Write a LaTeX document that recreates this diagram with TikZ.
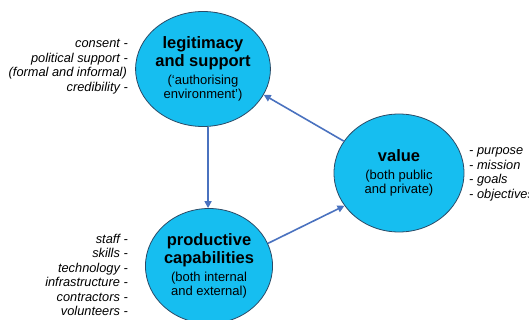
\documentclass[tikz,border=0pt]{standalone}
\usepackage{fontspec}
\setmainfont{Liberation Sans}
\usetikzlibrary{shapes.geometric,arrows.meta}
\definecolor{bubble}{HTML}{16BEF0}
\definecolor{bubedge}{HTML}{2B4A66}
\definecolor{arrowc}{HTML}{4A72BF}
\newcommand{\hd}[1]{{\fontsize{16.5}{18}\selectfont\bfseries #1}}
\begin{document}
\begin{tikzpicture}[x=1pt,y=-1pt,
  bub/.style={ellipse,draw=bubedge,line width=0.8pt,fill=bubble,minimum width=124pt,minimum height=115pt,inner sep=0pt,align=center,font=\fontsize{13}{14.5}\selectfont},
  arr/.style={draw=arrowc,line width=1.6pt,-{Triangle[length=7pt,width=7pt]}},
  lab/.style={font=\fontsize{12.8}{14.5}\selectfont\itshape,inner sep=0pt}]
\useasboundingbox (0,0) rectangle (529,320);

\node[bub] (leg) at (203,69) {\hd{legitimacy}\\[2pt]\hd{and support}\\[3pt](‘authorising\\environment’)};
\node[bub,minimum width=130pt,minimum height=118pt] (val) at (399,173) {\hd{value}\\[3pt](both public\\and private)};
\node[bub] (prod) at (209,266) {\hd{productive}\\[2pt]\hd{capabilities}\\[3pt](both internal\\and external)};

\draw[arr] (leg.-85) -- (leg.-85 |- prod.north);
\draw[arr] (prod.21) -- (val.211);
\draw[arr] (val.150) -- (leg.-23);

\node[lab,anchor=base east] (a1) at (128,48) {consent -};
\node[lab,anchor=base east] (a2) at (128,62.5) {political support -};
\node[lab,anchor=base east] (a3) at (127,77) {(formal and informal)};
\node[lab,anchor=base east] (a4) at (128,91.5) {credibility -};

\node[lab,anchor=base east] (b1) at (128,243) {staff -};
\node[lab,anchor=base east] (b2) at (128,257.5) {skills -};
\node[lab,anchor=base east] (b3) at (128,272) {technology -};
\node[lab,anchor=base east] (b4) at (128,286.5) {infrastructure -};
\node[lab,anchor=base east] (b5) at (128,301) {contractors -};
\node[lab,anchor=base east] (b6) at (128,315.5) {volunteers -};

\node[lab,anchor=base west] (c1) at (469,155) {- purpose};
\node[lab,anchor=base west] (c2) at (469,169.5) {- mission};
\node[lab,anchor=base west] (c3) at (469,184) {- goals};
\node[lab,anchor=base west] (c4) at (469,198.5) {- objectives};
\end{tikzpicture}
\end{document}
